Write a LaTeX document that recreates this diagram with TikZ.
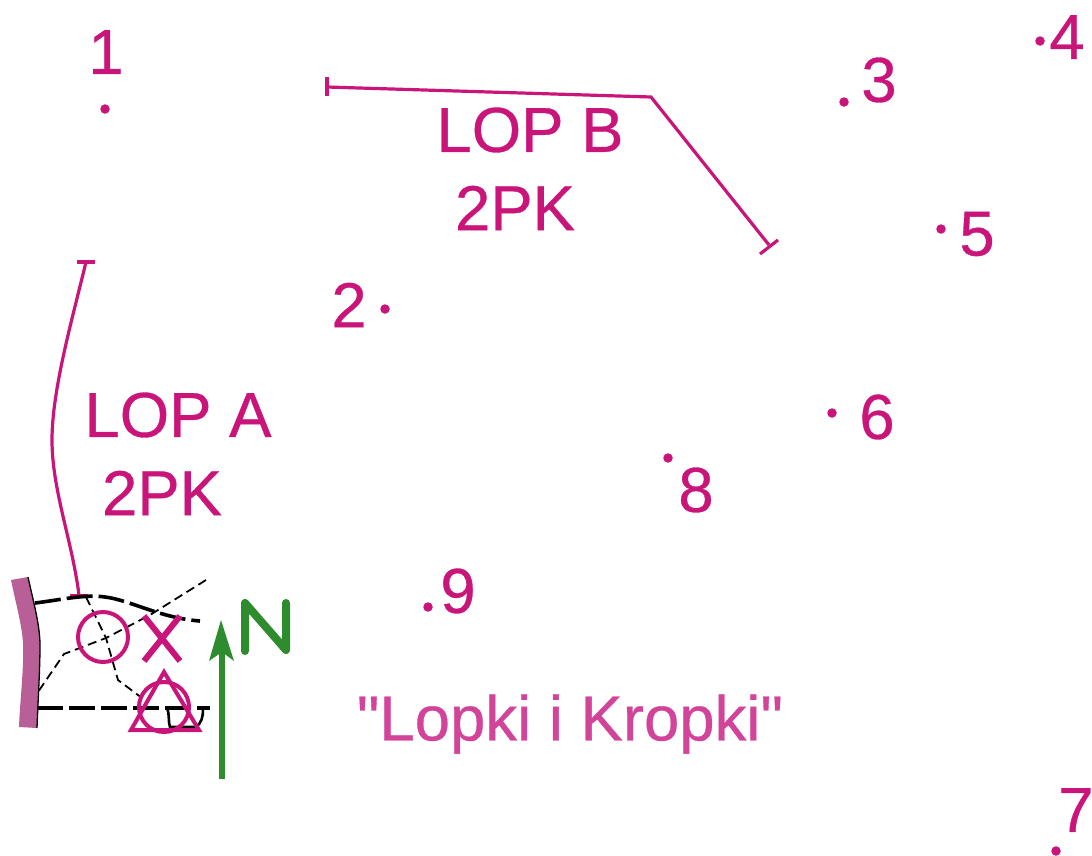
\documentclass[tikz,border=0pt]{standalone}
\usepackage{fontspec}
\setmainfont{Liberation Sans}[FakeBold=0.5]
\newfontfamily\rawfont{Liberation Sans}[FakeBold=0.5,Ligatures=NoCommon]
\definecolor{mag}{HTML}{C9147A}
\definecolor{magl}{HTML}{D2449A}
\definecolor{grn}{HTML}{2E8B2E}
\definecolor{wall}{HTML}{B95F97}
\tikzset{
 lbl/.style={text=mag,inner sep=0pt,font=\fontsize{63.5}{63.5}\selectfont},
 dot/.style={circle,fill=mag,inner sep=0pt,minimum size=9.5pt},
 route/.style={draw=mag,line width=3.2pt},
 sym/.style={draw=mag,line width=4pt},
 track/.style={draw=black,line width=3.6pt,dash pattern=on 26pt off 6pt},
 path1/.style={draw=black,line width=1.8pt,dash pattern=on 9pt off 5pt},
}
\begin{document}
\begin{tikzpicture}[x=1pt,y=-1pt]
\useasboundingbox (0,0) rectangle (1092,855);
% numbers
\node[lbl] (n1) at (106,52) {1};
\node[dot] (d1) at (105,109) {};
\node[lbl] (n2) at (349,305) {2};
\node[dot] (d2) at (385,309) {};
\node[lbl] (n3) at (879,80) {3};
\node[dot] (d3) at (844,102) {};
\node[lbl] (n4) at (1067,37) {4};
\node[dot] (d4) at (1040,41) {};
\node[lbl] (n5) at (977,234) {5};
\node[dot] (d5) at (941,229) {};
\node[lbl] (n6) at (877,417) {6};
\node[dot] (d6) at (832,413) {};
\node[lbl] (n7) at (1076,810) {7};
\node[dot] (d7) at (1056,851) {};
\node[lbl] (n8) at (696,490) {8};
\node[dot] (d8) at (668,458) {};
\node[lbl] (n9) at (458,591) {9};
\node[dot] (d9) at (428,607) {};
% route labels
\node[lbl] (lopb) at (530,130) {LOP B};
\node[lbl] (pkb) at (515,208) {2PK};
\node[lbl] (lopa) at (178,415) {LOP A};
\node[lbl] (pka) at (162,493) {2PK};
\node[lbl,text=magl,font=\fontsize{63.5}{63.5}\rawfont] (title) at (570,724) {"Lopki i Kropki"};
% route B
\coordinate (b0) at (327,87);
\coordinate (b1) at (651,97);
\coordinate (b2) at (769,245);
\draw[route] (b0) -- (b1) -- (b2);
\draw[route] (327,77) -- (327,96);
\draw[route] (760,254) -- (778,240);
% route A
\coordinate (a0) at (86,262);
\coordinate (a1) at (79,595);
\draw[route] (a0) .. controls (72,320) and (52,390) .. (52,440) .. controls (52,490) and (72,540) .. (a1);
\draw[route] (77,262) -- (95,262);
\draw[route] (70,596) -- (88,596);
% map inset
\fill[wall] (11,580) -- (28,577) .. controls (33,600) and (40,625) .. (40,645) .. controls (40,670) and (38,700) .. (37,728) -- (19,727) .. controls (20,700) and (24,670) .. (23,643) .. controls (22,625) and (15,600) .. (11,580) -- cycle;
\draw[line width=1.3pt] (28,577) .. controls (33,600) and (40,625) .. (40,645) .. controls (40,670) and (38,700) .. (37,728);
\draw[track] (35,603) .. controls (60,600) and (85,594) .. (105,597) .. controls (130,600) and (160,618) .. (200,621);
\draw[track] (37,708) -- (210,708);
\draw[draw=black,line width=2.6pt] (167,708) .. controls (170,716) and (168,722) .. (170,727) -- (195,727) .. controls (202,724) and (203,716) .. (203,709);
\draw[path1] (206,580) -- (150,615) -- (106,638) -- (64,654) -- (38,692);
\draw[path1] (86,597) -- (106,638) -- (118,680) -- (142,698);
% symbols
\node[sym,circle,minimum size=50pt,inner sep=0pt] (circ) at (103,637) {};
\draw[sym,line width=6pt] (144,616) -- (180,661);
\draw[sym,line width=6pt] (180,616) -- (144,661);
\node[sym,circle,minimum size=50pt,inner sep=0pt] (circ2) at (164,707) {};
\draw[sym] (164,672) -- (131,730) -- (199,730) -- cycle;
% north
\coordinate (s) at (222,779);
\coordinate (t) at (221,620);
\draw[draw=grn,line width=5.5pt] (s) -- (222,650);
\fill[grn] (t) -- (234,661) -- (222,652) -- (209,661) -- cycle;
\draw[grn,line width=8pt,line cap=round,line join=round] (245,651) -- (245,603) -- (286,650) -- (286,603);
\end{tikzpicture}
\end{document}
